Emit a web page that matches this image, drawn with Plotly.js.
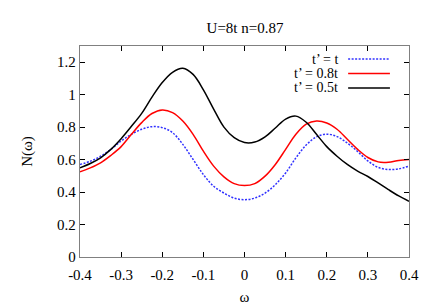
<!DOCTYPE html>
<html>
<head>
<meta charset="utf-8">
<script src="https://cdn.plot.ly/plotly-3.0.1.min.js"></script>
<style>body{margin:0;background:#fff}</style>
</head>
<body>
<div id="plot" style="width:436px;height:305px"></div>
<script>
var omega = [-0.4, -0.375, -0.35, -0.325, -0.3, -0.275, -0.25, -0.225, -0.2,
  -0.175, -0.15, -0.125, -0.1, -0.075, -0.05, -0.025, 0,
  0.025, 0.05, 0.075, 0.1, 0.125, 0.15, 0.175, 0.2,
  0.225, 0.25, 0.275, 0.3, 0.325, 0.35, 0.375, 0.4];

var nBlue = [0.570, 0.590, 0.621, 0.663, 0.714, 0.756, 0.787, 0.803, 0.797,
  0.766, 0.694, 0.601, 0.508, 0.436, 0.394, 0.363, 0.353,
  0.363, 0.394, 0.446, 0.518, 0.611, 0.690, 0.740, 0.757,
  0.742, 0.702, 0.650, 0.592, 0.552, 0.539, 0.543, 0.560];

var nRed = [0.525, 0.549, 0.580, 0.626, 0.680, 0.756, 0.828, 0.884, 0.906,
  0.890, 0.838, 0.756, 0.652, 0.560, 0.494, 0.452, 0.440,
  0.452, 0.498, 0.570, 0.663, 0.756, 0.818, 0.838, 0.826,
  0.787, 0.725, 0.663, 0.613, 0.586, 0.584, 0.595, 0.601];

var nBlack = [0.549, 0.576, 0.611, 0.663, 0.729, 0.805, 0.885, 0.985, 1.075,
  1.138, 1.163, 1.125, 1.030, 0.911, 0.800, 0.735, 0.705,
  0.708, 0.740, 0.795, 0.850, 0.868, 0.830, 0.756, 0.680,
  0.621, 0.570, 0.529, 0.496, 0.456, 0.415, 0.376, 0.343];

var names = ["t’ = t", "t’ = 0.8t", "t’ = 0.5t"];
var colors = ["#3030ff", "#ff0000", "#000000"];
var dashes = ["2px,1.5px", "solid", "solid"];

var xTicks = [-0.4, -0.3, -0.2, -0.1, 0, 0.1, 0.2, 0.3, 0.4];
var xTickText = ["-0.4", "-0.3", "-0.2", "-0.1", "0", "0.1", "0.2", "0.3", "0.4"];
var yTicks = [0, 0.2, 0.4, 0.6, 0.8, 1, 1.2];
var yTickText = ["0", "0.2", "0.4", "0.6", "0.8", "1", "1.2"];

var serif = "Liberation Serif, Times New Roman, serif";

var series = [nBlue, nRed, nBlack];
var data = series.map(function (s, i) {
  return {
    x: omega, y: s, type: "scatter", mode: "lines", name: names[i],
    line: {color: colors[i], width: 1.5, dash: dashes[i], shape: "spline", smoothing: 1}
  };
});

// gnuplot-style key: text right-aligned, sample line after it
var keyY = [0.938, 0.870, 0.801];
var annotations = names.map(function (n, i) {
  return {xref: "paper", yref: "paper", x: 0.79, y: keyY[i], text: n, showarrow: false,
    xanchor: "right", yanchor: "middle", font: {family: serif, size: 14, color: "#000"}};
});
var shapes = names.map(function (n, i) {
  return {type: "line", xref: "paper", yref: "paper", x0: 0.815, x1: 0.942, y0: keyY[i], y1: keyY[i],
    line: {color: colors[i], width: 1.5, dash: dashes[i]}};
});

var axis = {
  showgrid: false, zeroline: false, ticks: "inside", ticklen: 5, tickcolor: "#000",
  mirror: "ticks", showline: true, linecolor: "#808080", linewidth: 1.2,
  tickfont: {family: serif, size: 15, color: "#000"}
};

var layout = {
  width: 436, height: 305,
  margin: {l: 80, r: 27, t: 46, b: 48},
  paper_bgcolor: "#fff", plot_bgcolor: "#fff",
  showlegend: false,
  title: {text: "U=8t n=0.87", x: 0.562, xanchor: "center", y: 0.925, font: {family: serif, size: 15, color: "#000"}},
  xaxis: Object.assign({}, axis, {range: [-0.4, 0.4], tickvals: xTicks, ticktext: xTickText,
    ticklabelstandoff: 4,
    title: {text: "ω", font: {family: serif, size: 15, color: "#000"}, standoff: 12}}),
  yaxis: Object.assign({}, axis, {range: [0, 1.3], tickvals: yTicks, ticktext: yTickText,
    title: {text: "N(ω)", font: {family: serif, size: 15, color: "#000"}, standoff: 20}}),
  annotations: annotations,
  shapes: shapes
};

Plotly.newPlot("plot", data, layout, {displayModeBar: false, staticPlot: true});
</script>
</body>
</html>
